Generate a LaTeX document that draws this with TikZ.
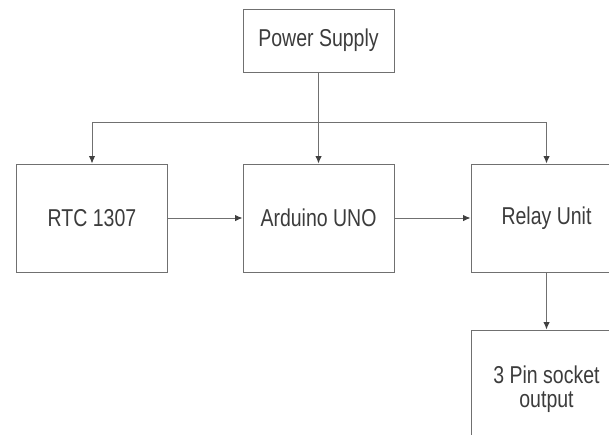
\documentclass[tikz,border=0pt]{standalone}
\usepackage{fontspec}
\setmainfont{Liberation Sans}
\usetikzlibrary{arrows.meta}
\definecolor{ln}{HTML}{707070}
\definecolor{tx}{HTML}{3C3C3C}
\newcommand\vstr[1]{\scalebox{1}[1.25]{#1}}
\begin{document}
\begin{tikzpicture}[x=1pt,y=-1pt,
  box/.style={draw=ln, line width=1pt, fill=white, minimum width=151pt, minimum height=108pt,
    inner sep=0pt, font=\fontsize{19.5}{26}\selectfont, text=tx, align=center},
  conn/.style={draw=ln, line width=1pt, -{Latex[length=7.5pt,width=6.5pt,color=black!75]}},
  bus/.style={draw=ln, line width=1pt}]
\useasboundingbox (0,0) rectangle (609,434);
\clip (0,0) rectangle (609,434);
\fill[white] (0,0) rectangle (609,434);
\node[box, minimum height=63pt] (ps) at (318.5,40.5) {\vstr{Power Supply}};
\node[box] (rtc) at (92,218) {\vstr{RTC 1307}};
\node[box] (ard) at (318.5,218) {\vstr{Arduino UNO}};
\node[box] (rel) at (546.5,218) {\vstr{Relay Unit}};
\node[box, minimum height=119pt] (pin) at (546.5,389.5) {\vstr{3 Pin socket}\\[-2pt]\vstr{output}};
\coordinate (busL) at (92,122);
\coordinate (busR) at (546.5,122);
\draw[bus] (busL) -- (busR);
\draw[conn] (ps.south) -- (ard.north);
\draw[conn] (busL) -- (rtc.north);
\draw[conn] (busR) -- (rel.north);
\draw[conn] (rtc.east) -- (ard.west);
\draw[conn] (ard.east) -- (rel.west);
\draw[conn] (rel.south) -- (pin.north);
\end{tikzpicture}
\end{document}
